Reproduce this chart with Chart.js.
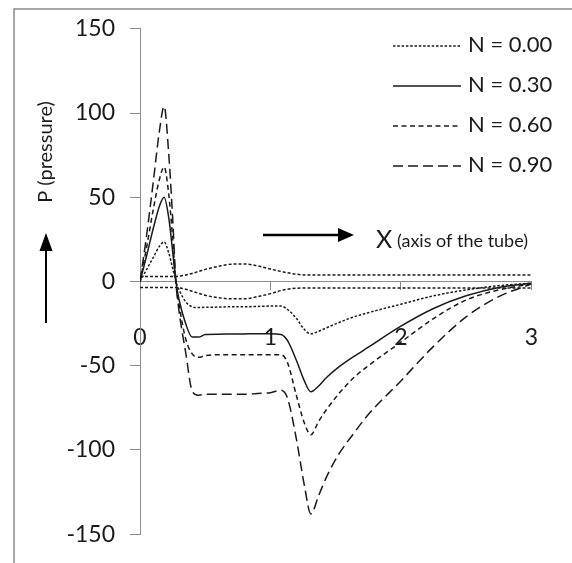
<!DOCTYPE html>
<html><head><meta charset="utf-8">
<script src="https://cdn.jsdelivr.net/npm/chart.js@4/dist/chart.umd.min.js"></script>
<style>html,body{margin:0;padding:0;background:#fff;}#wrap{width:572px;height:563px;position:relative;}</style>
</head><body><div id="wrap"><canvas id="c" width="572" height="563"></canvas></div>
<script>
// X positions along the tube
const xValues = [0, 0.05, 0.1, 0.15, 0.185, 0.22, 0.25, 0.275, 0.3, 0.35, 0.4, 0.45, 0.5, 0.6, 0.7, 0.8, 0.9, 1.0, 1.08, 1.13, 1.2, 1.26, 1.31, 1.37, 1.43, 1.52, 1.64, 1.75, 2.0, 2.25, 2.5, 2.75, 3.0];
// Pressure series
const pN000 = [0, 7, 14, 21, 23.5, 17, 8, 0, -5, -12, -15, -15.5, -15.3, -15.2, -15, -15, -14.8, -14.6, -14.6, -16.5, -22, -28.5, -31, -29.5, -27.5, -24.5, -21, -18.5, -13.5, -8.5, -5, -2.5, -1];
const pN030 = [0, 15, 31, 45, 50, 38, 18, 0, -11, -25, -33, -33, -31.5, -31.3, -31.2, -31.1, -31, -31, -31.5, -35, -47, -59, -65.5, -62, -57, -51, -44.5, -39, -26.5, -16, -8.5, -3.5, -1];
const pN060 = [0, 20, 42, 61, 68, 52, 26, 0, -14, -34, -43, -45, -44, -43.5, -43.5, -43.5, -43.5, -43.5, -43.5, -48, -68, -84, -91, -83, -76, -67, -57, -50, -36, -22, -11, -5, -1.5];
const pN090 = [0, 27, 58, 90, 104, 76, 38, 0, -18, -42, -65, -67.5, -67, -67, -67, -67, -66.5, -66, -64.5, -69, -94, -121, -138, -127, -116, -103, -90, -79, -59, -38.5, -21, -9, -1.5];
const pUpper = [3, 3, 3, 3, 3, 3, 3, 3, 3.2, 3.8, 4.8, 6, 7.2, 9, 10.3, 10.4, 9.3, 7.4, 6, 5.2, 4.3, 3.9, 3.8, 3.8, 3.8, 3.8, 3.8, 3.8, 3.8, 3.8, 3.8, 3.8, 3.8];
const pLower = [-3.6, -3.6, -3.6, -3.6, -3.6, -3.6, -3.6, -3.6, -3.8, -4.6, -5.8, -7, -8.2, -9.6, -10.3, -10.3, -9, -7.2, -5.4, -4.6, -4, -3.9, -3.9, -3.9, -3.9, -3.9, -3.9, -3.9, -3.9, -3.9, -3.9, -3.9, -3.9];
const seriesLabels = ['N = 0.00', 'N = 0.30', 'N = 0.60', 'N = 0.90'];
const xTickRange = [0, 3];
const yTickRange = [-150, 150];

const FONT = 'Lato, "Open Sans", sans-serif';
const INK = '#1a1a1a';
const AXIS = '#8c8c8c';

function pts(arr) { return xValues.map((x, i) => ({ x: x, y: arr[i] })); }
function ds(label, arr, dash, inLegend) {
  return { label: label, data: pts(arr), borderColor: INK, borderWidth: 1.5, borderDash: dash,
    pointRadius: 0, fill: false, cubicInterpolationMode: 'monotone', inLegend: inLegend };
}

const datasets = [
  ds(seriesLabels[0], pN000, [2.5, 1.8], true),
  ds(seriesLabels[1], pN030, [], true),
  ds(seriesLabels[2], pN060, [5, 3.5], true),
  ds(seriesLabels[3], pN090, [10, 5], true),
  ds('', pUpper, [3, 2], false),
  ds('', pLower, [3, 2], false)
];

const decor = {
  id: 'decor',
  beforeDraw(chart) {
    const ctx = chart.ctx;
    ctx.save();
    ctx.fillStyle = '#fff';
    ctx.fillRect(0, 0, chart.width, chart.height);
    ctx.strokeStyle = '#8a8a8a';
    ctx.lineWidth = 1.5;
    ctx.beginPath();
    ctx.moveTo(14, chart.height + 5);
    ctx.lineTo(14, 9);
    ctx.lineTo(chart.width + 5, 9);
    ctx.stroke();
    ctx.restore();
  },
  afterDraw(chart) {
    const ctx = chart.ctx;
    ctx.save();
    // legend
    const legY = [46, 86, 126, 166];
    let k = 0;
    chart.data.datasets.forEach((d) => {
      if (!d.inLegend) return;
      const y = legY[k++];
      ctx.strokeStyle = d.borderColor;
      ctx.lineWidth = d.borderWidth;
      ctx.setLineDash(d.borderDash);
      ctx.beginPath(); ctx.moveTo(393, y); ctx.lineTo(461, y); ctx.stroke();
      ctx.setLineDash([]);
      ctx.fillStyle = INK;
      ctx.font = '22px ' + FONT;
      ctx.textAlign = 'left'; ctx.textBaseline = 'middle';
      ctx.fillText(d.label, 468, y - 1);
    });
    // vertical arrow
    ctx.strokeStyle = '#000'; ctx.fillStyle = '#000';
    ctx.lineWidth = 2;
    ctx.beginPath(); ctx.moveTo(46, 323); ctx.lineTo(46, 248); ctx.stroke();
    ctx.beginPath(); ctx.moveTo(46, 233); ctx.lineTo(39.5, 251); ctx.lineTo(52.5, 251); ctx.closePath(); ctx.fill();
    // horizontal arrow
    ctx.lineWidth = 2.5;
    ctx.beginPath(); ctx.moveTo(263, 235); ctx.lineTo(340, 235); ctx.stroke();
    ctx.beginPath(); ctx.moveTo(354, 235); ctx.lineTo(338, 228); ctx.lineTo(338, 242); ctx.closePath(); ctx.fill();
    // axis titles
    ctx.fillStyle = INK;
    ctx.textBaseline = 'middle';
    ctx.textAlign = 'left';
    ctx.font = '25px ' + FONT;
    ctx.fillText('X', 376, 240);
    ctx.font = '18px ' + FONT;
    ctx.fillText('(axis of the tube)', 397, 241);
    ctx.save();
    ctx.translate(46, 152);
    ctx.rotate(-Math.PI / 2);
    ctx.textAlign = 'center';
    ctx.font = '20px ' + FONT;
    ctx.fillText('P (pressure)', 0, 0);
    ctx.restore();
    ctx.restore();
  }
};

new Chart(document.getElementById('c'), {
  type: 'line',
  data: { datasets: datasets },
  options: {
    responsive: false,
    animation: false,
    devicePixelRatio: 1,
    layout: { padding: { top: 28, bottom: 20, left: 0, right: 17 } },
    plugins: { legend: { display: false }, tooltip: { enabled: false } },
    scales: {
      x: {
        type: 'linear', min: xTickRange[0], max: xTickRange[1], position: { y: 0 },
        ticks: { stepSize: 1, padding: 34, color: INK, font: { family: FONT, size: 23 } },
        grid: { display: true, drawOnChartArea: false, drawTicks: true, tickLength: 8, color: AXIS },
        border: { display: true, color: AXIS, width: 1 },
        afterFit(s) { s.height = 0; }
      },
      y: {
        type: 'linear', min: yTickRange[0], max: yTickRange[1],
        ticks: { stepSize: 50, padding: 15, color: INK, font: { family: FONT, size: 23 } },
        grid: { display: true, drawOnChartArea: false, drawTicks: true, tickLength: 10, color: AXIS },
        border: { display: true, color: AXIS, width: 1 },
        afterFit(s) { s.width = 140; }
      }
    }
  },
  plugins: [decor]
});
</script></body></html>
